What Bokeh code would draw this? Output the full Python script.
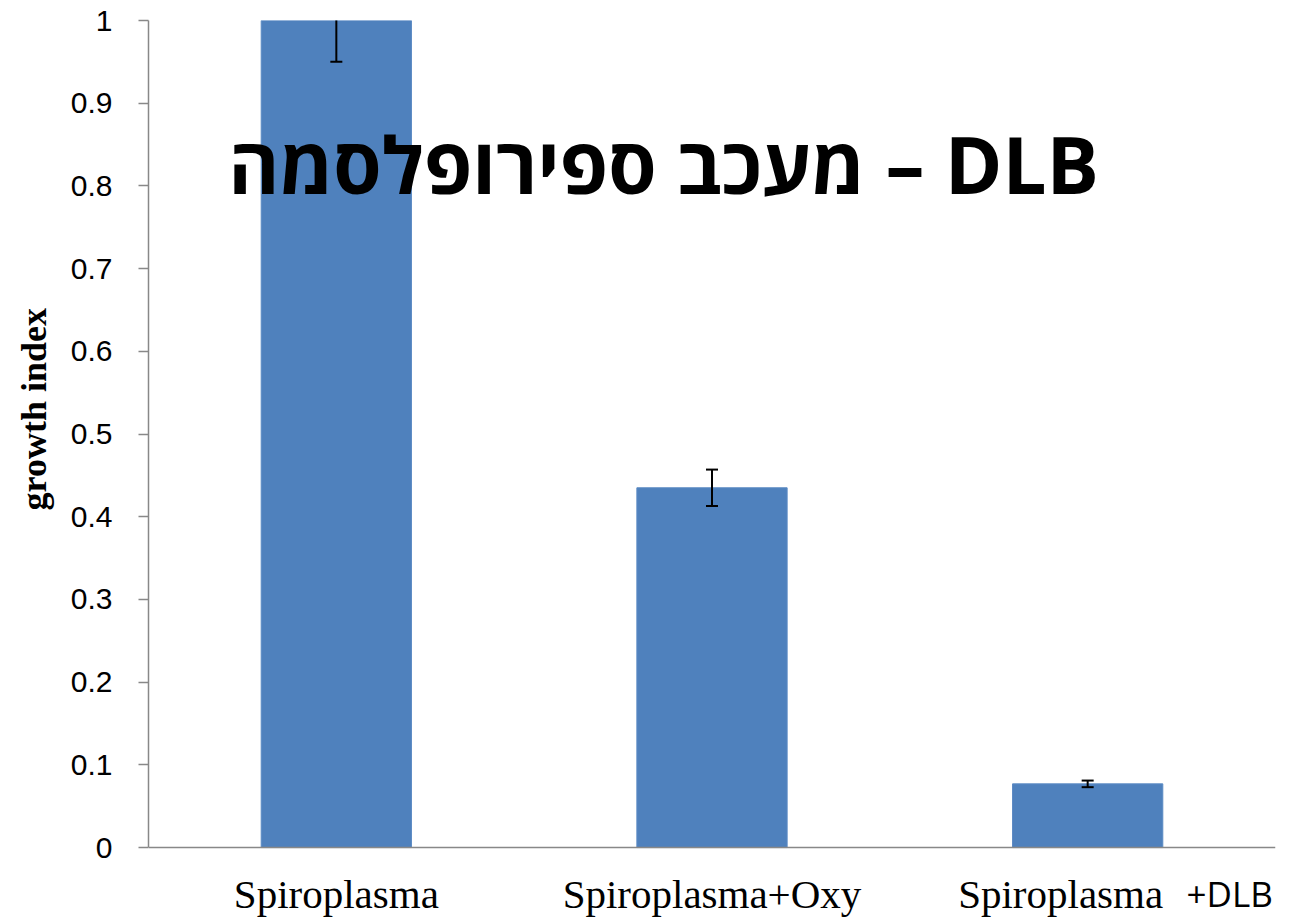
import math
from bokeh.plotting import figure
from bokeh.models import ColumnDataSource, Label, FactorRange, Span, Range1d
from bokeh.layouts import row
from bokeh.core.properties import value
from bokeh.embed import file_html
from bokeh.resources import INLINE

categories = ["Spiroplasma", "Spiroplasma+Oxy", "Spiroplasma +DLB"]
growth_index = [1.0, 0.435, 0.077]
errors = [0.05, 0.022, 0.004]
y_ticks = [0, 0.1, 0.2, 0.3, 0.4, 0.5, 0.6, 0.7, 0.8, 0.9, 1]
label_main = ["Spiroplasma", "Spiroplasma+Oxy", "Spiroplasma"]
label_main_offset = [0, 0, -27]
label_suffix = "+DLB"
title_text = "מעכב ספירופלסמה – DLB"
y_title = "growth index"

lower = [v - e for v, e in zip(growth_index, errors)]
upper = [v + e for v, e in zip(growth_index, errors)]
src = ColumnDataSource(dict(x=categories, top=growth_index, lower=lower, upper=upper))
lab_src = ColumnDataSource(dict(x=categories, y=[0] * len(categories), text=label_main, xo=label_main_offset))

H = 919
yr = Range1d(-0.087, 1)

p = figure(width=1227, height=H, x_range=FactorRange(*categories, range_padding=0),
           y_range=yr, output_backend="svg", toolbar_location=None,
           min_border_left=88, min_border_right=12, min_border_top=20, min_border_bottom=0)
p.outline_line_color = None
p.grid.grid_line_color = None
p.x_range.factor_padding = 0
p.xaxis.visible = False

p.vbar(x="x", top="top", width=0.4, source=src, fill_color="#4F81BD", line_color="#5B8AC4", line_width=1)
p.segment(x0="x", y0="lower", x1="x", y1="upper", source=src, line_color="black", line_width=2)
p.scatter(x="x", y="lower", source=src, marker="dash", size=12, line_color="black", line_width=2)
p.scatter(x="x", y="upper", source=src, marker="dash", size=12, line_color="black", line_width=2)

# x axis line at zero
p.add_layout(Span(location=0, dimension="width", line_color="#888888", line_width=1.5))

ya = p.yaxis[0]
ya.ticker = y_ticks
ya.bounds = (0, 1)
ya.major_label_overrides = {0: "0", 1: "1"}
ya.axis_line_color = "#888888"
ya.axis_line_width = 1.5
ya.major_tick_line_color = "#888888"
ya.major_tick_line_width = 1.5
ya.major_tick_out = 10
ya.major_tick_in = 0
ya.minor_tick_line_color = None
ya.major_label_standoff = 26
ya.major_label_text_font = "Liberation Sans"
ya.major_label_text_font_size = "30px"
ya.major_label_text_color = "black"

# category labels
p.text(x="x", y="y", text="text", x_offset="xo", y_offset=46, source=lab_src,
       text_font=value("Liberation Serif"), text_font_size="41px", text_align="center",
       text_baseline="alphabetic", text_color="black")
p.text(x=[categories[2]], y=[0], text=[label_suffix], x_offset=142, y_offset=46,
       text_font=value("Open Sans"), text_font_size="35px", text_align="center",
       text_baseline="alphabetic", text_color="black")

p.add_layout(Label(x=1.371, y=0.826, text=title_text, text_font="Open Sans",
                   text_font_style="bold", text_font_size="78px", text_align="center",
                   text_baseline="alphabetic", text_color="black"))

# y axis title strip
q = figure(width=60, height=H, x_range=(0, 1), y_range=yr, output_backend="svg",
           toolbar_location=None, min_border_left=0, min_border_right=0,
           min_border_top=20, min_border_bottom=0)
q.axis.visible = False
q.grid.grid_line_color = None
q.outline_line_color = None
q.text(x=[0.55], y=[0.53], text=[y_title], angle=math.pi / 2,
       text_font=value("Liberation Serif"), text_font_style="bold", text_font_size="36px",
       text_align="center", text_baseline="middle", text_color="black")

layout = row(q, p)
open("out.html", "w").write(file_html(layout, INLINE))
